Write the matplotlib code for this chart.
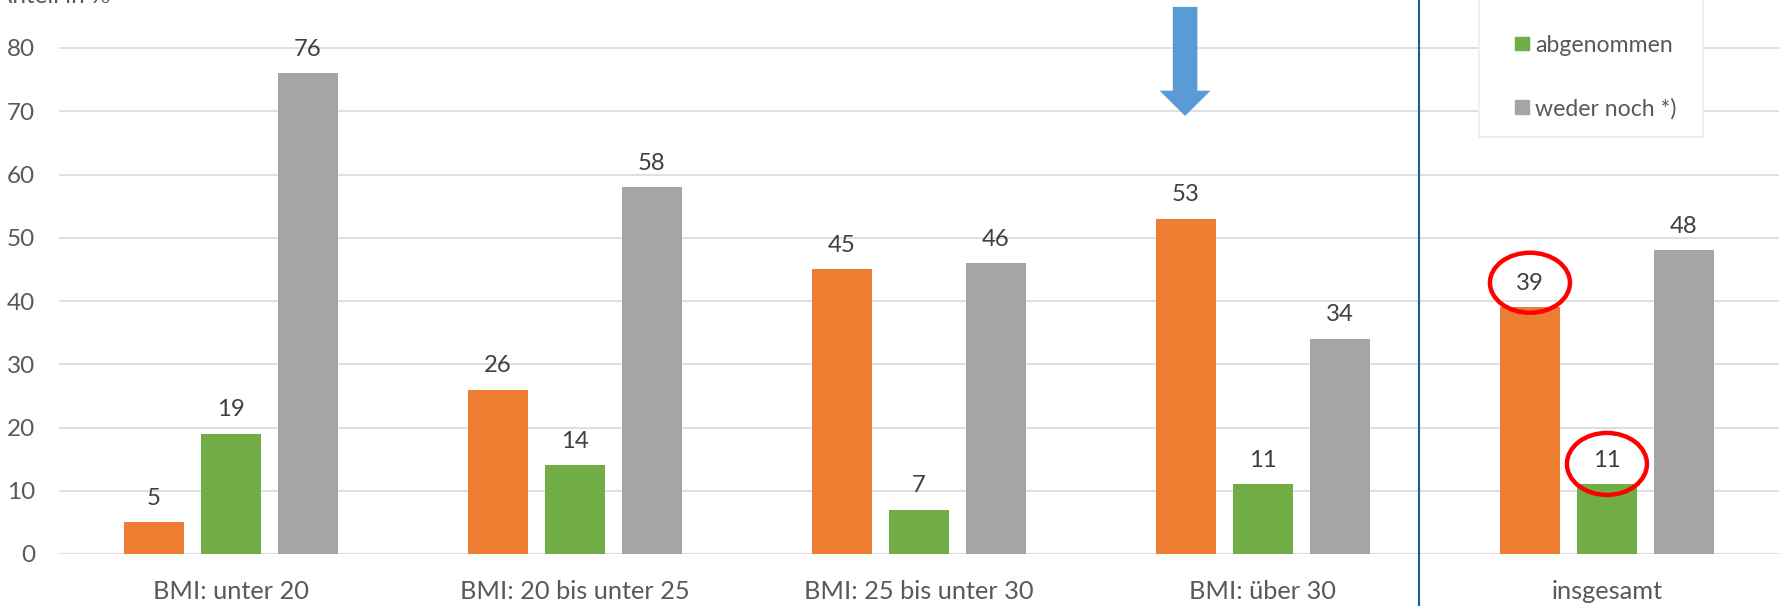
import matplotlib.pyplot as plt
import matplotlib.transforms as mtransforms
from matplotlib.patches import Ellipse, FancyArrow, Rectangle
import numpy as np

plt.rcParams['font.family'] = ['Lato', 'DejaVu Sans']

# Daten: Veränderung des Körpergewichts nach BMI-Gruppe, Anteil in %
categories = ["BMI: unter 20", "BMI: 20 bis unter 25", "BMI: 25 bis unter 30",
              "BMI: über 30", "insgesamt"]
series_names = ["zugenommen", "abgenommen", "weder noch *)"]
zugenommen = [5, 26, 45, 53, 39]
abgenommen = [19, 14, 7, 11, 11]
weder_noch = [76, 58, 46, 34, 48]
yticks = [0, 10, 20, 30, 40, 50, 60, 70, 80]

# markierte Werte in "insgesamt"
circled = [(4, 0), (4, 1)]

colors = ["#ED7D31", "#70AD47", "#A5A5A5"]
values = [zugenommen, abgenommen, weder_noch]

W, H = 1787, 606
fig = plt.figure(figsize=(W / 100, H / 100), dpi=100)
ax = fig.add_axes([58.5 / W, 52 / H, (1779 - 58.5) / W, 554 / H])
px_per_unit = 6.325
ax.set_ylim(0, 554 / px_per_unit)
ax.set_xlim(-0.5, 4.5)

x = np.arange(len(categories))
step = 77 / 344.1
bw = 60 / 344.1

for i, (vals, col) in enumerate(zip(values, colors)):
    xs = x + (i - 1) * step
    ax.bar(xs, vals, width=bw, color=col, zorder=2)
    for xi, v in zip(xs, vals):
        ax.annotate(str(v), (xi, v), xytext=(0, 12.6), textcoords="offset points",
                    ha="center", va="baseline", fontsize=17.2, color="#404040")

# Gitter und Achsen
ax.set_yticks(yticks)
ax.set_yticklabels([str(t) for t in yticks], fontsize=17.5, color="#595959")
ax.tick_params(axis="y", length=0, pad=16.9)
ax.set_xticks([])
for t in yticks:
    ax.axhline(t, color="#D9D9D9", lw=1.2, zorder=1)
for s in ax.spines.values():
    s.set_visible(False)

for xi, lab in zip(x, categories):
    ax.annotate(lab, (xi, 0), xytext=(0, -32.6), textcoords="offset points",
                ha="center", va="baseline", fontsize=18.3, color="#595959")

# Trennlinie vor "insgesamt"
trans = mtransforms.blended_transform_factory(ax.transData, fig.transFigure)
ax.plot([3.455, 3.455], [0, 1], transform=trans, color="#1F5C99", lw=1.5,
        clip_on=False, zorder=5)

# Pfeil über "BMI: über 30"
ax.add_patch(FancyArrow(2.774, 86.5, 0, -17.25, width=0.0715, head_width=0.148,
                        head_length=4.0, length_includes_head=True,
                        color="#5B9BD5", lw=0, zorder=4))

# Kreise um die Werte
for (g, s), dy, h in zip(circled, [24.6, 20.5], [60, 62]):
    xc = x[g] + (s - 1) * step
    yc = values[s][g] + dy / px_per_unit
    ax.add_patch(Ellipse((xc, yc), 80 / 344.1, h / px_per_unit, fill=False,
                         edgecolor="#FF0000", lw=3.2, zorder=6))

# Legende (oberer Teil liegt außerhalb)
ax_leg = fig.add_axes([0, 0, 1, 1], facecolor="none")
ax_leg.set_xlim(0, W)
ax_leg.set_ylim(H, 0)
ax_leg.axis("off")
ax_leg.add_patch(Rectangle((1478.7, -60), 224, 197.3, facecolor="white",
                           edgecolor="#EDEDED", lw=1.2))
for k, (name, col) in enumerate(zip(series_names, colors)):
    yc = 43.3 + (k - 1) * 63.4
    ax_leg.add_patch(Rectangle((1515.3, yc - 6.8), 13.7, 13.7, color=col))
    ax_leg.text(1535, yc, name, fontsize=16.6, color="#595959", va="center_baseline")

ax_leg.text(-4, 3.0, "Anteil in %", fontsize=17.5, color="#595959", va="baseline")

fig.savefig("out.png", dpi=100)
